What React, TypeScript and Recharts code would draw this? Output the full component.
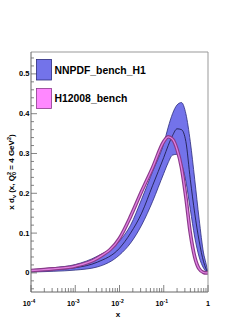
import { ComposedChart, Area, Line, XAxis, YAxis } from "recharts";

// x grid (log spaced) and the curves
const xs = [0.0001, 0.000316, 0.001, 0.00316, 0.01, 0.0178, 0.0316, 0.0562, 0.1, 0.126, 0.158, 0.2, 0.251, 0.316, 0.398, 0.501, 0.631, 0.794, 0.891, 1];
const nnpdfHigh = [0.008, 0.013, 0.021, 0.042, 0.08, 0.12, 0.185, 0.255, 0.325, 0.366, 0.4, 0.422, 0.428, 0.4, 0.33, 0.235, 0.135, 0.05, 0.026, 0];
const nnpdfMid = [0.005, 0.008, 0.013, 0.027, 0.062, 0.1, 0.15, 0.22, 0.29, 0.32, 0.345, 0.362, 0.36, 0.33, 0.235, 0.15, 0.08, 0.028, 0.011, 0];
const nnpdfLow = [0.002, 0.004, 0.007, 0.015, 0.045, 0.075, 0.12, 0.18, 0.25, 0.277, 0.296, 0.298, 0.275, 0.23, 0.16, 0.09, 0.04, 0.012, 0.004, 0];
const h1Mid = [0.006, 0.01, 0.017, 0.037, 0.087, 0.142, 0.205, 0.265, 0.33, 0.342, 0.336, 0.31, 0.265, 0.19, 0.1, 0.04, 0.01, 0.001, 0, 0];

const xTicks = [
  0.0001, 0.0002, 0.0003, 0.0004, 0.0005, 0.0006, 0.0007, 0.0008, 0.0009,
  0.001, 0.002, 0.003, 0.004, 0.005, 0.006, 0.007, 0.008, 0.009,
  0.01, 0.02, 0.03, 0.04, 0.05, 0.06, 0.07, 0.08, 0.09,
  0.1, 0.2, 0.3, 0.4, 0.5, 0.6, 0.7, 0.8, 0.9, 1,
];
const xMajor = [0.0001, 0.001, 0.01, 0.1, 1];
const xExp = ["-4", "-3", "-2", "-1", ""];

const yTicks = [-0.04, -0.02, 0, 0.02, 0.04, 0.06, 0.08, 0.1, 0.12, 0.14, 0.16, 0.18, 0.2, 0.22, 0.24, 0.26, 0.28, 0.3, 0.32, 0.34, 0.36, 0.38, 0.4, 0.42, 0.44, 0.46, 0.48, 0.5, 0.52, 0.54];
const yMajor = [0, 0.1, 0.2, 0.3, 0.4, 0.5];
const yLabels = ["0", "0.1", "0.2", "0.3", "0.4", "0.5"];

const legendNames = ["NNPDF_bench_H1", "H12008_bench"];

const data = xs.map((x, i) => ({
  x,
  band: [nnpdfLow[i], nnpdfHigh[i]],
  mid: nnpdfMid[i],
  h1: h1Mid[i],
}));

const FONT = "'Liberation Sans', Arial, sans-serif";
const BAND = "#7373ea";
const AXIS = "#666";

const findIdx = (arr: number[], v: number) => arr.findIndex((a) => Math.abs(a - v) < 1e-9);

function XTick(props: any) {
  const { x, y, payload } = props;
  const i = findIdx(xMajor, payload.value);
  const len = i >= 0 ? 7 : 4;
  return (
    <g>
      <line x1={x} x2={x} y1={y} y2={y - len} stroke={AXIS} strokeWidth={0.8} />
      {i >= 0 && (
        <text x={i === 4 ? x : x - 2} y={y + 13.5} textAnchor="middle" fontFamily={FONT} fontWeight="bold" fontSize={7.2} fill="#000">
          {i === 4 ? "1" : "10"}
          {xExp[i] && (
            <tspan dy={-3} fontSize={5}>
              {xExp[i]}
            </tspan>
          )}
        </text>
      )}
    </g>
  );
}

function YTick(props: any) {
  const { x, y, payload } = props;
  const i = findIdx(yMajor, payload.value);
  const len = i >= 0 ? 6 : 3;
  return (
    <g>
      <line x1={x} x2={x + len} y1={y} y2={y} stroke={AXIS} strokeWidth={0.8} />
      {i >= 0 && (
        <text x={x - 1.5} y={y + 2.6} textAnchor="end" fontFamily={FONT} fontWeight="bold" fontSize={7.5} fill="#000">
          {yLabels[i]}
        </text>
      )}
    </g>
  );
}

function Titles() {
  return (
    <svg width={249} height={323} style={{ position: "absolute", left: 0, top: 0, pointerEvents: "none" }}>
      <text transform="translate(14,172) rotate(-90)" textAnchor="middle" fontFamily={FONT} fontWeight="bold" fontSize={8} fill="#000">
        x d
        <tspan dy={2} fontSize={5.5}>v</tspan>
        <tspan dy={-2}> (x, Q</tspan>
        <tspan dy={2} fontSize={5.5}>0</tspan>
        <tspan dy={-5} dx={-3} fontSize={5.5}>2</tspan>
        <tspan dy={3}> = 4 GeV</tspan>
        <tspan dy={-3} fontSize={5.5}>2</tspan>
        <tspan dy={3}>)</tspan>
      </text>
      <text x={118} y={316.5} textAnchor="middle" fontFamily={FONT} fontWeight="bold" fontSize={8} fill="#000">
        x
      </text>
      <rect x={36.5} y={59.5} width={15} height={20.5} fill={BAND} stroke="#2b2b7a" strokeWidth={0.8} />
      <text x={54.5} y={73.5} fontFamily={FONT} fontWeight="bold" fontSize={10.4} fill="#000">
        {legendNames[0]}
      </text>
      <rect x={36.5} y={88.5} width={15} height={20} fill="#ff88ff" stroke="#8a3a8a" strokeWidth={0.8} />
      <text x={54.5} y={102} fontFamily={FONT} fontWeight="bold" fontSize={10.4} fill="#000">
        {legendNames[1]}
      </text>
    </svg>
  );
}

export default function App() {
  return (
    <div style={{ position: "absolute", left: 0, top: 0, width: 249, height: 323, background: "#fff" }}>
      <ComposedChart width={249} height={323} data={data} margin={{ top: 51, right: 40, bottom: 30, left: 30 }}>
        <XAxis
          dataKey="x"
          type="number"
          scale="log"
          domain={[0.0001, 1]}
          allowDataOverflow
          ticks={xTicks}
          interval={0}
          height={1}
          tickSize={0}
          tickMargin={0}
          tickLine={false}
          tick={<XTick />}
          axisLine={{ stroke: AXIS, strokeWidth: 1 }}
        />
        <XAxis xAxisId="top" dataKey="x" type="number" scale="log" domain={[0.0001, 1]} allowDataOverflow orientation="top" height={1} tick={false} tickLine={false} axisLine={{ stroke: "#999", strokeWidth: 1 }} />
        <YAxis
          type="number"
          domain={[-0.048, 0.555]}
          allowDataOverflow
          ticks={yTicks}
          interval={0}
          width={1}
          tickSize={0}
          tickMargin={0}
          tickLine={false}
          tick={<YTick />}
          axisLine={{ stroke: AXIS, strokeWidth: 1 }}
        />
        <YAxis yAxisId="right" orientation="right" type="number" domain={[-0.048, 0.555]} width={1} tick={false} tickLine={false} axisLine={{ stroke: "#999", strokeWidth: 1 }} />
        <Area dataKey="band" type="monotone" fill={BAND} fillOpacity={1} stroke="#2b2b7a" strokeWidth={0.8} isAnimationActive={false} dot={false} activeDot={false} />
        <Line dataKey="mid" type="monotone" stroke="#14143a" strokeWidth={0.8} dot={false} activeDot={false} isAnimationActive={false} />
        <Line dataKey="h1" type="monotone" stroke="#8a3a8a" strokeWidth={3.6} dot={false} activeDot={false} isAnimationActive={false} />
        <Line dataKey="h1" type="monotone" stroke="#e080e0" strokeWidth={1.3} dot={false} activeDot={false} isAnimationActive={false} />
      </ComposedChart>
      <Titles />
    </div>
  );
}
